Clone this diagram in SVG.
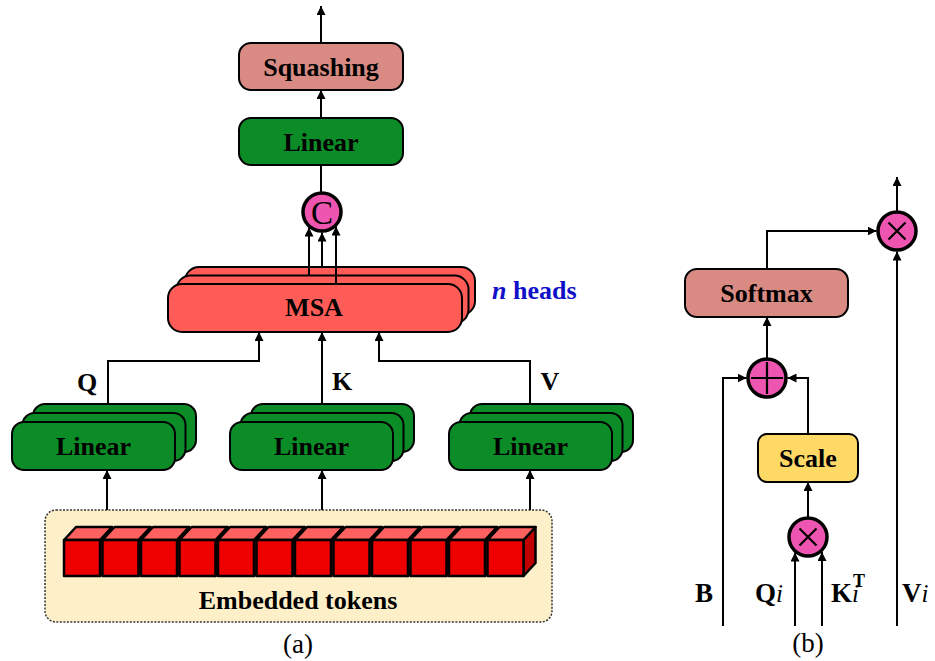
<svg xmlns="http://www.w3.org/2000/svg" width="935" height="661" viewBox="0 0 935 661" font-family="Liberation Serif">
  <defs>
    <style>
      text { font-family: 'Liberation Serif', serif; fill: #000; }
      .lbl { font-size: 26px; font-weight: bold; text-anchor: middle; }
      .cap { font-size: 27px; text-anchor: middle; }
      .sub { font-size: 27px; font-weight: bold; }
      .box { stroke: #000; stroke-width: 2; }
      .green { fill: #0b8c26; }
      .rose { fill: #d98a82; }
      .msa { fill: #ff5c57; }
      .yellow { fill: #ffd966; }
      .op { fill: #ee55b0; stroke: #000; stroke-width: 3.5; }
      .sym { fill: none; stroke: #000; stroke-width: 2.2; }
    </style>
    <marker id="arrow" viewBox="0 0 10 10" refX="10" refY="5" markerWidth="9" markerHeight="9" markerUnits="userSpaceOnUse" orient="auto">
      <path d="M0,0 L10,5 L0,10 z" fill="#000"/>
    </marker>
    <!-- one token cube: side, top and front faces -->
    <g id="cube" stroke="#000" stroke-width="2.5" stroke-linejoin="round">
      <path d="M36,540 L48,527 L48,563 L36,576 z" fill="#c00000"/>
      <path d="M0,540 L12,527 L48,527 L36,540 z" fill="#ff6060"/>
      <rect x="0" y="540" width="36" height="36" fill="#ee0000"/>
    </g>
  </defs>

  <!-- ===== (a) ===== -->
  <g id="embedded-tokens">
    <rect x="45" y="510" width="507" height="112" rx="11" fill="#fdefc7" stroke="#333" stroke-width="1.5" stroke-dasharray="2,1.5"/>
    <g id="cubes">
      <use href="#cube" x="64"/>
      <use href="#cube" x="102.5"/>
      <use href="#cube" x="141"/>
      <use href="#cube" x="179.5"/>
      <use href="#cube" x="218"/>
      <use href="#cube" x="256.5"/>
      <use href="#cube" x="295"/>
      <use href="#cube" x="333.5"/>
      <use href="#cube" x="372"/>
      <use href="#cube" x="410.5"/>
      <use href="#cube" x="449"/>
      <use href="#cube" x="487.5"/>
    </g>
    <text class="lbl" font-family="Liberation Serif" x="298" y="609">Embedded tokens</text>
  </g>

  <g id="linear-q">
    <rect class="box green" x="33" y="404" width="163" height="48" rx="12"/>
    <rect class="box green" x="22.5" y="413" width="163" height="48" rx="12"/>
    <rect class="box green" x="12" y="422" width="163" height="48" rx="12"/>
    <text class="lbl" font-family="Liberation Serif" x="93.5" y="455">Linear</text>
  </g>
  <g id="linear-k">
    <rect class="box green" x="251" y="404" width="163" height="48" rx="12"/>
    <rect class="box green" x="240.5" y="413" width="163" height="48" rx="12"/>
    <rect class="box green" x="230" y="422" width="163" height="48" rx="12"/>
    <text class="lbl" font-family="Liberation Serif" x="311.5" y="455">Linear</text>
  </g>
  <g id="linear-v">
    <rect class="box green" x="470" y="404" width="163" height="48" rx="12"/>
    <rect class="box green" x="459.5" y="413" width="163" height="48" rx="12"/>
    <rect class="box green" x="449" y="422" width="163" height="48" rx="12"/>
    <text class="lbl" font-family="Liberation Serif" x="530.5" y="455">Linear</text>
  </g>

  <g id="msa">
    <rect class="box msa" x="185" y="267" width="290" height="48" rx="14"/>
    <rect class="box msa" x="176.5" y="275.5" width="292" height="48" rx="14"/>
    <rect class="box msa" x="168" y="284" width="294" height="48" rx="14"/>
    <text class="lbl" font-family="Liberation Serif" x="314" y="316">MSA</text>
  </g>
  <text id="heads-label" font-family="Liberation Serif" x="492" y="299" font-size="26" font-weight="bold" style="fill:#1010c8"><tspan font-style="italic">n</tspan> heads</text>

  <g id="concat">
    <circle class="op" cx="322" cy="212" r="19"/>
    <text font-family="Liberation Serif" x="322" y="223.5" font-size="33" text-anchor="middle">C</text>
  </g>

  <g id="linear-out">
    <rect class="box green" x="239" y="118" width="164" height="47" rx="12"/>
    <text class="lbl" font-family="Liberation Serif" x="321" y="151">Linear</text>
  </g>
  <g id="squashing">
    <rect class="box rose" x="239" y="43" width="164" height="47" rx="12"/>
    <text class="lbl" font-family="Liberation Serif" x="321" y="76">Squashing</text>
  </g>

  <g id="qkv-labels">
    <text class="lbl" font-family="Liberation Serif" font-size="27" x="87" y="391">Q</text>
    <text class="lbl" font-family="Liberation Serif" font-size="27" x="342" y="390">K</text>
    <text class="lbl" font-family="Liberation Serif" font-size="27" x="550" y="390">V</text>
  </g>

  <text class="cap" font-family="Liberation Serif" x="298" y="653">(a)</text>

  <!-- ===== (b) ===== -->
  <g id="softmax">
    <rect class="box rose" x="685" y="269" width="163" height="48" rx="12"/>
    <text class="lbl" font-family="Liberation Serif" x="766.5" y="302">Softmax</text>
  </g>
  <g id="scale">
    <rect class="box yellow" x="758" y="434" width="100" height="48" rx="9"/>
    <text class="lbl" font-family="Liberation Serif" x="808" y="467">Scale</text>
  </g>
  <g id="mul-out">
    <circle class="op" cx="897" cy="231" r="19"/>
    <path class="sym" d="M888.5,222.5 L905.5,239.5 M905.5,222.5 L888.5,239.5"/>
  </g>
  <g id="add">
    <circle class="op" cx="767" cy="378" r="19"/>
    <path class="sym" d="M767,362 L767,394 M751,378 L783,378"/>
  </g>
  <g id="mul-qk">
    <circle class="op" cx="808" cy="537" r="19"/>
    <path class="sym" d="M799.5,528.5 L816.5,545.5 M816.5,528.5 L799.5,545.5"/>
  </g>

  <g id="b-labels">
    <text class="sub" font-family="Liberation Serif" x="695" y="602">B</text>
    <text class="sub" font-family="Liberation Serif" x="755" y="602">Q<tspan font-weight="normal" font-style="italic" font-size="25">i</tspan></text>
    <text class="sub" font-family="Liberation Serif" x="831" y="602">K<tspan font-weight="normal" font-style="italic" font-size="25">i</tspan><tspan dx="-6" dy="-15" font-size="18">T</tspan></text>
    <text class="sub" font-family="Liberation Serif" x="902" y="602">V<tspan font-weight="normal" font-style="italic" font-size="25">i</tspan></text>
  </g>

  <text class="cap" font-family="Liberation Serif" x="808" y="652">(b)</text>

  <!-- ===== connectors ===== -->
  <g id="connectors" fill="none" stroke="#000" stroke-width="2">
    <!-- (a) -->
    <line x1="107" y1="510" x2="107" y2="470" marker-end="url(#arrow)"/>
    <line x1="322" y1="510" x2="322" y2="470" marker-end="url(#arrow)"/>
    <line x1="530" y1="510" x2="530" y2="470" marker-end="url(#arrow)"/>
    <polyline points="108,404 108,361 259,361 259,332" marker-end="url(#arrow)"/>
    <line x1="322" y1="404" x2="322" y2="332" marker-end="url(#arrow)"/>
    <polyline points="530,404 530,361 379,361 379,332" marker-end="url(#arrow)"/>
    <line x1="309" y1="275.5" x2="309" y2="227.5" marker-end="url(#arrow)"/>
    <line x1="322" y1="267" x2="322" y2="232.5" marker-end="url(#arrow)"/>
    <line x1="336" y1="284" x2="336" y2="226.5" marker-end="url(#arrow)"/>
    <line x1="321" y1="192" x2="321" y2="165"/>
    <line x1="321" y1="118" x2="321" y2="90" marker-end="url(#arrow)"/>
    <line x1="321" y1="43" x2="321" y2="6" marker-end="url(#arrow)"/>
    <!-- (b) -->
    <line x1="897" y1="211" x2="897" y2="177" marker-end="url(#arrow)"/>
    <polyline points="767,269 767,231 876.5,231" marker-end="url(#arrow)"/>
    <line x1="897" y1="626" x2="897" y2="251.5" marker-end="url(#arrow)"/>
    <line x1="767" y1="358" x2="767" y2="317" marker-end="url(#arrow)"/>
    <polyline points="723,626 723,378 746.5,378" marker-end="url(#arrow)"/>
    <polyline points="808,434 808,378 787.5,378" marker-end="url(#arrow)"/>
    <line x1="808" y1="517" x2="808" y2="482" marker-end="url(#arrow)"/>
    <line x1="795" y1="626" x2="795" y2="552.5" marker-end="url(#arrow)"/>
    <line x1="822" y1="626" x2="822" y2="552" marker-end="url(#arrow)"/>
  </g>
</svg>
